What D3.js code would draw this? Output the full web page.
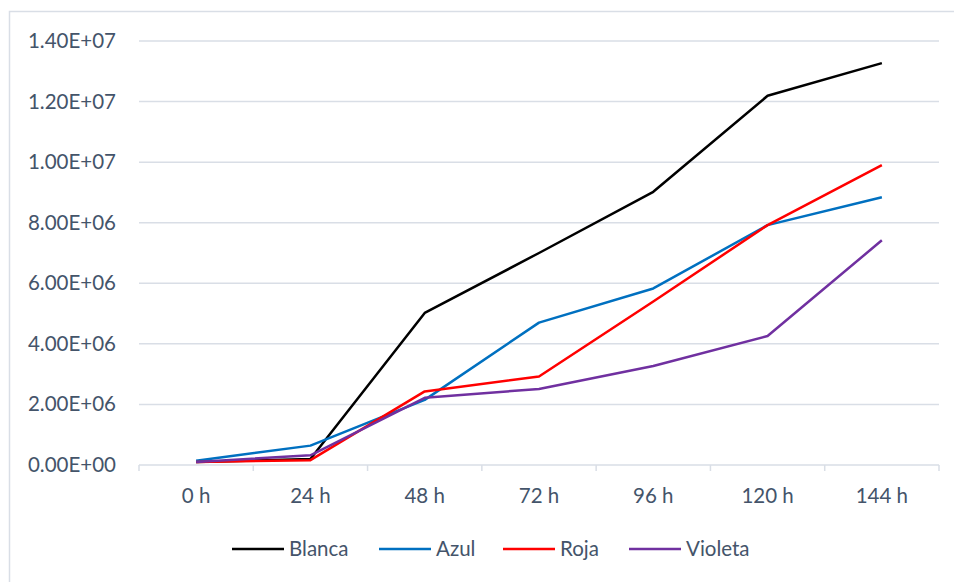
<!DOCTYPE html>
<html>
<head>
<meta charset="utf-8">
<script src="https://cdn.jsdelivr.net/npm/d3@7"></script>
<style>
  html, body { margin: 0; padding: 0; background: #fff; }
  svg { display: block; }
  text { font-family: Lato, "Open Sans", sans-serif; fill: #44546A; }
</style>
</head>
<body>
<svg id="chart" width="954" height="582"></svg>
<script>
// Sampling times and measured counts per light colour
const categories = ["0 h", "24 h", "48 h", "72 h", "96 h", "120 h", "144 h"];
const blanca  = [1.0e5, 2.0e5, 5.02e6, 7.0e6, 9.02e6, 1.219e7, 1.327e7];
const azul    = [1.4e5, 6.4e5, 2.15e6, 4.70e6, 5.83e6, 7.92e6, 8.84e6];
const roja    = [1.0e5, 1.6e5, 2.43e6, 2.92e6, 5.40e6, 7.92e6, 9.90e6];
const violeta = [1.0e5, 3.2e5, 2.22e6, 2.51e6, 3.27e6, 4.26e6, 7.42e6];
const seriesNames = ["Blanca", "Azul", "Roja", "Violeta"];
const seriesColors = ["#000000", "#0070C0", "#FF0000", "#7030A0"];
const yTicks = [0, 2e6, 4e6, 6e6, 8e6, 1e7, 1.2e7, 1.4e7];

const series = [blanca, azul, roja, violeta].map((values, i) => ({
  name: seriesNames[i], color: seriesColors[i], values
}));

const svg = d3.select("#chart");
const plot = { left: 139, right: 939, top: 41, bottom: 465 };
const fontSize = 20.5;

// Outer chart frame
svg.append("rect")
  .attr("x", 9.5).attr("y", 11.5)
  .attr("width", 960).attr("height", 600)
  .attr("fill", "none").attr("stroke", "#D9DEE6").attr("stroke-width", 1.5);

const x = d3.scaleBand().domain(categories).range([plot.left, plot.right]);
const y = d3.scaleLinear().domain([0, 1.4e7]).range([plot.bottom, plot.top]);

const fmt = v => {
  const [m, e] = v.toExponential(2).split("e");
  const sign = e[0] === "-" ? "-" : "+";
  const ex = e.replace(/[+-]/, "").padStart(2, "0");
  return `${m}E${sign}${ex}`;
};

// Horizontal gridlines
svg.append("g").selectAll("line")
  .data(yTicks.filter(d => d > 0))
  .join("line")
  .attr("x1", plot.left).attr("x2", plot.right)
  .attr("y1", d => y(d)).attr("y2", d => y(d))
  .attr("stroke", "#D9DEE6").attr("stroke-width", 1.5);

// Y axis labels
const yAxis = d3.axisLeft(y).tickValues(yTicks).tickFormat(fmt).tickSize(0).tickPadding(23);
const gy = svg.append("g").attr("transform", `translate(${plot.left},0)`).call(yAxis);
gy.select(".domain").remove();
gy.selectAll("text").attr("font-size", fontSize).attr("font-family", null).attr("fill", "#44546A");

// X axis with category separators
const gx = svg.append("g").attr("transform", `translate(0,${plot.bottom})`);
gx.append("line")
  .attr("x1", plot.left).attr("x2", plot.right)
  .attr("stroke", "#D9DEE6").attr("stroke-width", 1.5);
const bounds = categories.map(c => x(c)).concat([plot.right]);
gx.selectAll("line.sep").data(bounds).join("line").attr("class", "sep")
  .attr("x1", d => d).attr("x2", d => d).attr("y1", 0).attr("y2", 6)
  .attr("stroke", "#D9DEE6").attr("stroke-width", 1.5);
gx.selectAll("text").data(categories).join("text")
  .attr("x", d => x(d) + x.bandwidth() / 2)
  .attr("y", 38)
  .attr("text-anchor", "middle")
  .attr("font-size", fontSize)
  .text(d => d);

// Series lines
const line = d3.line()
  .x((d, i) => x(categories[i]) + x.bandwidth() / 2)
  .y(d => y(d));

svg.append("g").selectAll("path")
  .data(series)
  .join("path")
  .attr("d", d => line(d.values))
  .attr("fill", "none")
  .attr("stroke", d => d.color)
  .attr("stroke-width", 2.5)
  .attr("stroke-linejoin", "round");

// Legend
const legendX = [232, 379, 503, 629];
const leg = svg.append("g").attr("transform", "translate(0,549)");
const items = leg.selectAll("g").data(series).join("g")
  .attr("transform", (d, i) => `translate(${legendX[i]},0)`);
items.append("line")
  .attr("x1", 0).attr("x2", 52)
  .attr("stroke", d => d.color).attr("stroke-width", 2.5);
items.append("text")
  .attr("x", 57).attr("y", 0).attr("dy", "0.35em")
  .attr("font-size", fontSize)
  .text(d => d.name);
</script>
</body>
</html>
